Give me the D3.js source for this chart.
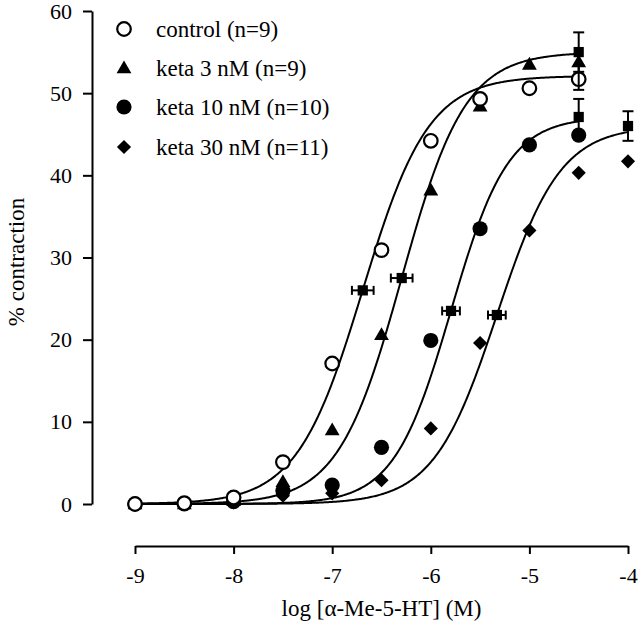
<!DOCTYPE html>
<html>
<head>
<meta charset="utf-8">
<script src="https://cdn.jsdelivr.net/npm/d3@7"></script>
<style>
  html, body { margin: 0; padding: 0; background: #fff; }
  svg { display: block; }
  text { font-family: "Liberation Serif", "Times New Roman", serif; fill: #000; }
</style>
</head>
<body>
<svg id="chart" width="640" height="629"></svg>
<script>
// ---- data ----
const doses = [-9, -8.5, -8, -7.5, -7, -6.5, -6, -5.5, -5, -4.5];
const doses30 = [-9, -8.5, -8, -7.5, -7, -6.5, -6, -5.5, -5, -4.5, -4];
const controlVals = [0, 0.1, 0.8, 5.1, 17.1, 30.9, 44.2, 49.3, 50.6, 51.7];
const keta3Vals  = [0, 0, 0.4, 2.7, 9.0, 20.6, 38.2, 48.4, 53.5, 53.8];
const keta10Vals = [0, 0, 0.3, 1.6, 2.3, 6.9, 19.9, 33.5, 43.7, 44.9];
const keta30Vals = [0, 0, 0.2, 1.0, 1.3, 2.9, 9.2, 19.6, 33.3, 40.3, 41.7];

const seriesNames = ["control (n=9)", "keta 3 nM (n=9)", "keta 10 nM (n=10)", "keta 30 nM (n=11)"];

// fitted sigmoid parameters
const fitTop    = [52.1, 55.0, 47.1, 46.0];
const fitLogEC  = [-6.69, -6.295, -5.795, -5.33];
const fitHill   = [1.3, 1.35, 1.5, 1.35];
const fitStart  = [-9, -9, -9, -9];
const fitEnd    = [-4.5, -4.5, -4.5, -4];

// EC50 markers (log EC50 ± SEM)
const ec50X   = [-6.69, -6.295, -5.795, -5.33];
const ec50Y   = [26.0, 27.5, 23.5, 23.0];
const ec50Err = [0.11, 0.11, 0.09, 0.09];

// Emax markers (Emax ± SEM)
const emaxX   = [-4.5, -4.5, -4.5, -4];
const emaxY   = [51.9, 55.0, 47.1, 46.0];
const emaxErr = [1.5, 2.4, 2.2, 1.8];
const emaxShowSquare = [false, true, true, true];

const xTicks = [-9, -8, -7, -6, -5, -4];
const yTicks = [0, 10, 20, 30, 40, 50, 60];

// ---- layout ----
const svg = d3.select("#chart");
const x = d3.scaleLinear().domain([-9, -4]).range([135, 628]);
const y = d3.scaleLinear().domain([0, 60]).range([504, 11]);
const yAxisX = 92;
const xAxisY = 546;

// axes
const gy = svg.append("g").attr("transform", `translate(${yAxisX},0)`)
  .call(d3.axisLeft(y).tickValues(yTicks).tickSize(9).tickSizeOuter(0).tickPadding(11).tickFormat(d => String(d)));
const gx = svg.append("g").attr("transform", `translate(0,${xAxisY})`)
  .call(d3.axisBottom(x).tickValues(xTicks).tickSize(8).tickSizeOuter(0).tickPadding(13).tickFormat(d => String(d)));
[gx, gy].forEach(g => {
  g.selectAll("path.domain").attr("stroke", "#000").attr("stroke-width", 2);
  g.selectAll(".tick line").attr("stroke", "#000").attr("stroke-width", 2);
  g.selectAll(".tick text").style("font-family", '"Liberation Serif", serif').style("font-size", "22px").attr("fill", "#000");
});

// axis titles
svg.append("text")
  .attr("x", x(-6.5)).attr("y", 616)
  .attr("text-anchor", "middle")
  .style("font-size", "23px")
  .text("log [\u03B1-Me-5-HT] (M)");
svg.append("text")
  .attr("transform", `translate(24,${262}) rotate(-90)`)
  .attr("text-anchor", "middle")
  .style("font-size", "23px")
  .text("% contraction");

// fitted curves
const line = d3.line().x(d => x(d[0])).y(d => y(d[1]));
fitTop.forEach((top, i) => {
  const pts = d3.range(fitStart[i], fitEnd[i] + 1e-9, 0.01).map(v =>
    [v, top / (1 + Math.pow(10, (fitLogEC[i] - v) * fitHill[i]))]);
  svg.append("path").attr("d", line(pts))
    .attr("fill", "none").attr("stroke", "#000").attr("stroke-width", 2);
});

// symbols
const sym = {
  control: d3.symbol().type(d3.symbolCircle).size(Math.PI * 6.8 * 6.8),
  tri: d3.symbol().type(d3.symbolTriangle).size(95),
  dot: d3.symbol().type(d3.symbolCircle).size(Math.PI * 7.6 * 7.6),
  dia: d3.symbol().type(d3.symbolSquare).size(100),
  sq: d3.symbol().type(d3.symbolSquare).size(105)
};
function drawSymbol(g, kind, cx, cy) {
  const p = g.append("path").attr("d", sym[kind]());
  if (kind === "control") {
    p.attr("transform", `translate(${cx},${cy})`).attr("fill", "#fff").attr("stroke", "#000").attr("stroke-width", 2.2);
  } else if (kind === "dia") {
    p.attr("transform", `translate(${cx},${cy}) rotate(45)`).attr("fill", "#000");
  } else if (kind === "tri") {
    p.attr("transform", `translate(${cx},${cy + 1})`).attr("fill", "#000");
  } else {
    p.attr("transform", `translate(${cx},${cy})`).attr("fill", "#000");
  }
}

const pts = svg.append("g");
doses30.forEach((d, i) => drawSymbol(pts, "dia", x(d), y(keta30Vals[i])));
doses.forEach((d, i) => drawSymbol(pts, "dot", x(d), y(keta10Vals[i])));
doses.forEach((d, i) => drawSymbol(pts, "tri", x(d), y(keta3Vals[i])));

// Emax error bars (vertical)
const cap = 5.5;
const eb = svg.append("g").attr("stroke", "#000").attr("stroke-width", 2);
emaxX.forEach((d, i) => {
  const cx = x(d), lo = y(emaxY[i] - emaxErr[i]), hi = y(emaxY[i] + emaxErr[i]);
  eb.append("line").attr("x1", cx).attr("x2", cx).attr("y1", lo).attr("y2", hi);
  eb.append("line").attr("x1", cx - cap).attr("x2", cx + cap).attr("y1", lo).attr("y2", lo);
  eb.append("line").attr("x1", cx - cap).attr("x2", cx + cap).attr("y1", hi).attr("y2", hi);
});

// control points on top
doses.forEach((d, i) => drawSymbol(pts.append("g"), "control", x(d), y(controlVals[i])));

const sq = svg.append("g");
emaxX.forEach((d, i) => { if (emaxShowSquare[i]) drawSymbol(sq, "sq", x(d), y(emaxY[i])); });

// EC50 markers with horizontal error bars
ec50X.forEach((d, i) => {
  const cy = y(ec50Y[i]), l = x(d - ec50Err[i]), r = x(d + ec50Err[i]);
  sq.append("line").attr("x1", l).attr("x2", r).attr("y1", cy).attr("y2", cy).attr("stroke", "#000").attr("stroke-width", 2);
  sq.append("line").attr("x1", l).attr("x2", l).attr("y1", cy - 4.5).attr("y2", cy + 4.5).attr("stroke", "#000").attr("stroke-width", 2);
  sq.append("line").attr("x1", r).attr("x2", r).attr("y1", cy - 4.5).attr("y2", cy + 4.5).attr("stroke", "#000").attr("stroke-width", 2);
  drawSymbol(sq, "sq", x(d), cy);
});

// legend
const legendKinds = ["control", "tri", "dot", "dia"];
const legendRowY = [29, 68, 107, 147];
const lg = svg.append("g");
seriesNames.forEach((name, i) => {
  drawSymbol(lg, legendKinds[i], 124, legendRowY[i]);
  lg.append("text").attr("x", 156).attr("y", legendRowY[i] + 8)
    .style("font-size", "23px").text(name);
});
</script>
</body>
</html>
